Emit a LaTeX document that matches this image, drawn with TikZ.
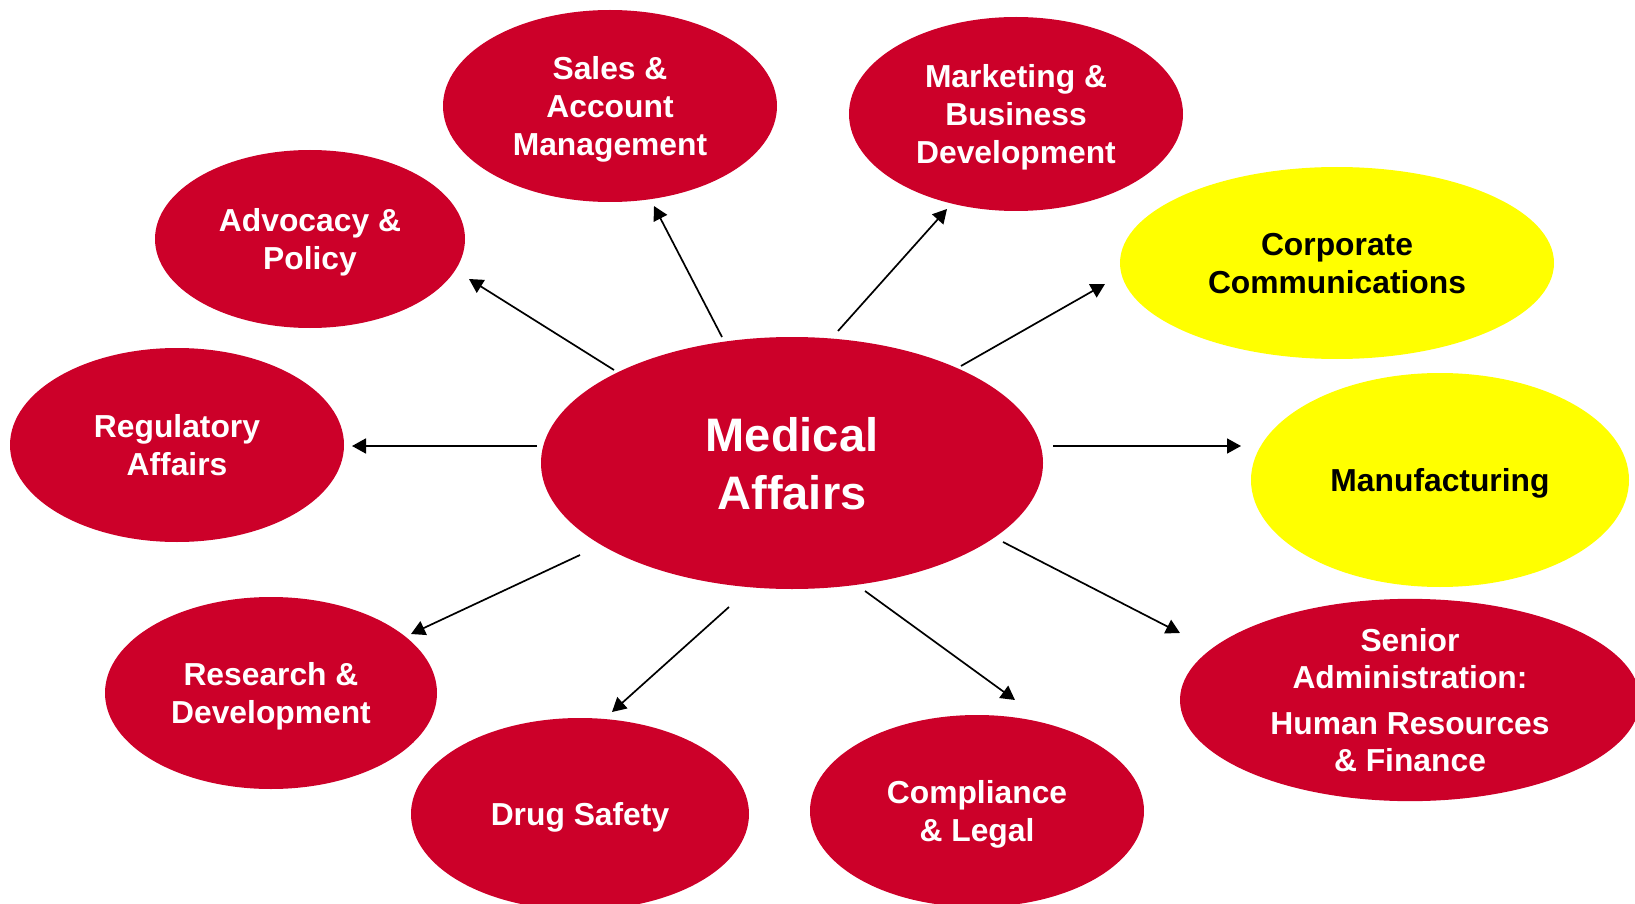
\documentclass[tikz,border=0pt]{standalone}
\usepackage{fontspec}
\setmainfont{Liberation Sans}
\usetikzlibrary{shapes.geometric,arrows.meta,calc}
\definecolor{mared}{HTML}{CC0029}
\definecolor{mayel}{HTML}{FFFF00}
\begin{document}
\begin{tikzpicture}[x=0.5pt,y=-0.5pt,
  bub/.style={ellipse,fill=mared,draw=none,inner sep=0pt,text=white,align=center,
    text depth=-4pt,
    font=\bfseries\fontsize{15.9}{19}\selectfont},
  ybub/.style={bub,fill=mayel,text=black},
  arr/.style={line width=0.85pt,-{Triangle[length=7pt,width=7.5pt]}}]
\useasboundingbox (0,0) rectangle (1635,904);
\node[bub,minimum width=251pt,minimum height=126pt,text depth=0pt,
  font=\bfseries\fontsize{23.5}{29}\selectfont] (ma) at (792,463) {Medical\\Affairs};
\node[bub,minimum width=167pt,minimum height=96pt] (sales) at (610,106) {Sales \&\\Account\\Management};
\node[bub,minimum width=167pt,minimum height=97pt] (mkt) at (1016,114) {Marketing \&\\Business\\Development};
\node[bub,minimum width=155pt,minimum height=89pt] (adv) at (310,239) {Advocacy \&\\Policy};
\node[ybub,minimum width=217pt,minimum height=96pt] (corp) at (1337,263) {Corporate\\Communications};
\node[ybub,minimum width=189pt,minimum height=107pt] (manu) at (1440,480) {Manufacturing};
\node[bub,minimum width=167pt,minimum height=97pt] (reg) at (177,445) {Regulatory\\Affairs};
\node[bub,minimum width=166pt,minimum height=96pt] (rd) at (271,693) {Research \&\\Development};
\node[bub,minimum width=169pt,minimum height=96pt] (drug) at (580,814) {Drug Safety};
\node[bub,minimum width=167pt,minimum height=96pt] (comp) at (977,811) {Compliance\\\& Legal};
\node[bub,minimum width=230pt,minimum height=97pt,text depth=-2pt,font=\bfseries\fontsize{15.9}{18.5}\selectfont] (senior) at (1410,700) {Senior\\Administration:\\[4.5pt]Human Resources\\\& Finance};
\draw[arr] ($(ma)+(-70,-126)$) -- ($(sales)+(44,100)$);
\draw[arr] ($(ma)+(46,-132)$) -- ($(mkt)+(-69,95)$);
\draw[arr] ($(ma)+(169,-97)$) -- ($(corp)+(-232,21)$);
\draw[arr] ($(ma)+(261,-17)$) -- ($(manu)+(-199,-34)$);
\draw[arr] ($(ma)+(211,79)$) -- ($(senior)+(-230,-67)$);
\draw[arr] ($(ma)+(73,128)$) -- ($(comp)+(38,-111)$);
\draw[arr] ($(ma)+(-63,144)$) -- ($(drug)+(32,-102)$);
\draw[arr] ($(ma)+(-212,92)$) -- ($(rd)+(140,-59)$);
\draw[arr] ($(ma)+(-255,-17)$) -- ($(reg)+(175,1)$);
\draw[arr] ($(ma)+(-178,-93)$) -- ($(adv)+(159,40)$);
\end{tikzpicture}
\end{document}
